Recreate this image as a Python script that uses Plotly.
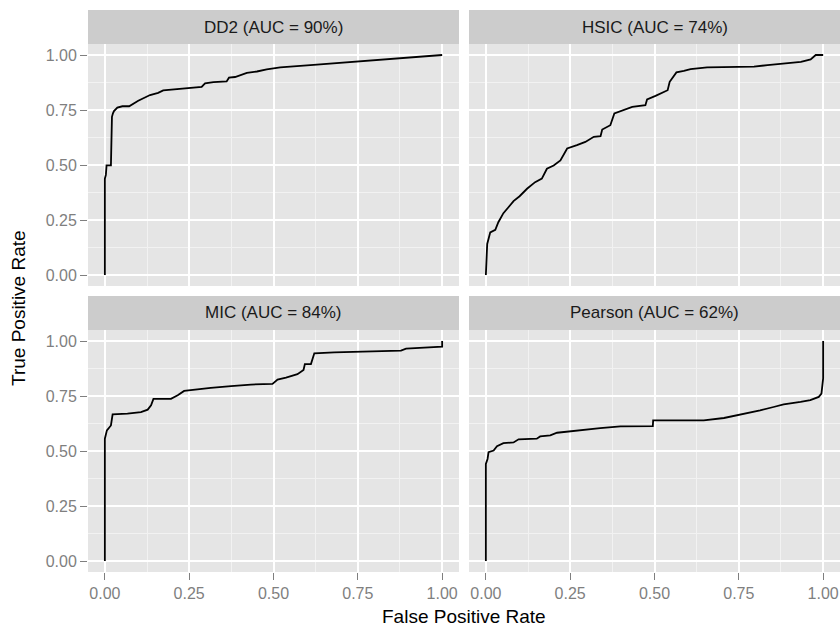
import plotly.graph_objects as go

W, H = 840, 628

# ROC curves per method: false positive rate vs true positive rate
methods = ["DD2", "HSIC", "MIC", "Pearson"]
auc_pct = [90, 74, 84, 62]

dd2_fpr = [0.0, 0.0, 0.003, 0.005, 0.018, 0.021, 0.024, 0.027, 0.037, 0.052, 0.072,
           0.099, 0.134, 0.158, 0.173, 0.223, 0.287, 0.297, 0.322, 0.361, 0.368,
           0.386, 0.421, 0.451, 0.480, 0.520, 0.569, 0.619, 1.0]
dd2_tpr = [0.0, 0.438, 0.455, 0.498, 0.498, 0.719, 0.735, 0.745, 0.761, 0.767, 0.767,
           0.792, 0.818, 0.828, 0.839, 0.845, 0.855, 0.871, 0.877, 0.880, 0.897,
           0.900, 0.919, 0.925, 0.935, 0.944, 0.951, 0.955, 1.0]

hsic_fpr = [0.0, 0.001, 0.004, 0.013, 0.028, 0.037, 0.052, 0.067, 0.082, 0.100,
            0.122, 0.146, 0.166, 0.181, 0.201, 0.221, 0.241, 0.270, 0.295, 0.320,
            0.340, 0.345, 0.369, 0.381, 0.409, 0.434, 0.473, 0.478, 0.503, 0.523,
            0.539, 0.545, 0.565, 0.587, 0.607, 0.656, 0.795, 0.835, 0.884, 0.934,
            0.963, 0.978, 1.0]
hsic_tpr = [0.0, 0.065, 0.141, 0.194, 0.205, 0.240, 0.281, 0.308, 0.336, 0.358,
            0.392, 0.422, 0.438, 0.483, 0.498, 0.521, 0.575, 0.590, 0.605, 0.628,
            0.631, 0.661, 0.681, 0.734, 0.749, 0.764, 0.772, 0.798, 0.814, 0.828,
            0.840, 0.878, 0.921, 0.928, 0.936, 0.944, 0.947, 0.954, 0.962, 0.969,
            0.980, 1.0, 1.0]

mic_fpr = [0.0, 0.0, 0.006, 0.018, 0.023, 0.067, 0.107, 0.127, 0.137, 0.144, 0.196,
           0.216, 0.235, 0.265, 0.314, 0.374, 0.433, 0.497, 0.512, 0.537, 0.571,
           0.589, 0.593, 0.611, 0.621, 0.680, 0.878, 0.893, 0.948, 1.0, 1.0]
mic_tpr = [0.0, 0.556, 0.594, 0.616, 0.667, 0.670, 0.677, 0.688, 0.708, 0.737, 0.737,
           0.753, 0.773, 0.779, 0.787, 0.795, 0.802, 0.805, 0.825, 0.834, 0.849,
           0.868, 0.895, 0.895, 0.944, 0.948, 0.956, 0.965, 0.971, 0.974, 1.0]

pearson_fpr = [0.0, 0.0, 0.005, 0.008, 0.023, 0.033, 0.052, 0.082, 0.097, 0.151,
               0.161, 0.191, 0.211, 0.270, 0.339, 0.399, 0.495, 0.496, 0.646, 0.706,
               0.745, 0.774, 0.813, 0.853, 0.883, 0.933, 0.962, 0.987, 0.995, 1.0, 1.0]
pearson_tpr = [0.0, 0.441, 0.464, 0.495, 0.502, 0.522, 0.536, 0.539, 0.553, 0.556,
               0.566, 0.571, 0.583, 0.594, 0.604, 0.612, 0.613, 0.639, 0.639, 0.650,
               0.662, 0.670, 0.685, 0.700, 0.712, 0.723, 0.731, 0.746, 0.761, 0.830, 1.0]

fpr_series = [dd2_fpr, hsic_fpr, mic_fpr, pearson_fpr]
tpr_series = [dd2_tpr, hsic_tpr, mic_tpr, pearson_tpr]

axis_ticks = [0.0, 0.25, 0.5, 0.75, 1.0]
minor_ticks = [0.125, 0.375, 0.625, 0.875]

# panel geometry in pixels (left, right) / (top, bottom)
panel_x = [(88, 459), (469, 840)]
panel_y = [(44, 286), (330, 572)]
strip_y = [(10, 44), (296, 330)]

FONT = "Liberation Sans, Arial, Helvetica, sans-serif"

fig = go.Figure()
shapes = []
annotations = []

for i, name in enumerate(methods):
    row, col = divmod(i, 2)
    k = "" if i == 0 else str(i + 1)
    x0, x1 = panel_x[col]
    y0, y1 = panel_y[row]
    fig.add_trace(go.Scatter(
        x=fpr_series[i], y=tpr_series[i], mode="lines",
        line=dict(color="black", width=1.8),
        xaxis="x" + k, yaxis="y" + k, showlegend=False, hoverinfo="skip",
    ))
    common = dict(
        range=[-0.05, 1.05], tickvals=axis_ticks, tickformat=".2f",
        showgrid=True, gridcolor="white", gridwidth=1.6,
        zeroline=False, showline=False, fixedrange=True,
        minor=dict(tickvals=minor_ticks, showgrid=True, gridcolor="#F2F2F2",
                   gridwidth=0.8, ticks=""),
        tickfont=dict(family=FONT, size=16, color="#7F7F7F"),
        tickcolor="#7F7F7F", tickwidth=1.4, ticklen=7,
    )
    fig.update_layout(**{
        "xaxis" + k: dict(
            common, domain=[x0 / W, x1 / W], anchor="y" + k,
            ticks="outside" if row == 1 else "", showticklabels=(row == 1),
        ),
        "yaxis" + k: dict(
            common, domain=[1 - y1 / H, 1 - y0 / H], anchor="x" + k,
            ticks="outside" if col == 0 else "", showticklabels=(col == 0),
        ),
    })
    s0, s1 = strip_y[row]
    shapes.append(dict(type="rect", xref="paper", yref="paper",
                       x0=x0 / W, x1=x1 / W, y0=1 - s1 / H, y1=1 - s0 / H,
                       fillcolor="#CCCCCC", line=dict(width=0), layer="below"))
    annotations.append(dict(
        text=f"{name} (AUC = {auc_pct[i]}%)", xref="paper", yref="paper",
        x=(x0 + x1) / 2 / W, y=1 - (s0 + s1) / 2 / H,
        xanchor="center", yanchor="middle", showarrow=False,
        font=dict(family=FONT, size=17, color="#1A1A1A"),
    ))

annotations.append(dict(
    text="False Positive Rate", xref="paper", yref="paper",
    x=(panel_x[0][0] + panel_x[1][1]) / 2 / W, y=1 - 616 / H,
    xanchor="center", yanchor="middle", showarrow=False,
    font=dict(family=FONT, size=19, color="black"),
))
annotations.append(dict(
    text="True Positive Rate", xref="paper", yref="paper",
    x=18 / W, y=1 - (panel_y[0][0] + panel_y[1][1]) / 2 / H,
    xanchor="center", yanchor="middle", textangle=-90, showarrow=False,
    font=dict(family=FONT, size=19, color="black"),
))

fig.update_layout(
    width=W, height=H, margin=dict(l=0, r=0, t=0, b=0),
    paper_bgcolor="white", plot_bgcolor="#E5E5E5",
    shapes=shapes, annotations=annotations,
)

fig.write_html("out.html")
